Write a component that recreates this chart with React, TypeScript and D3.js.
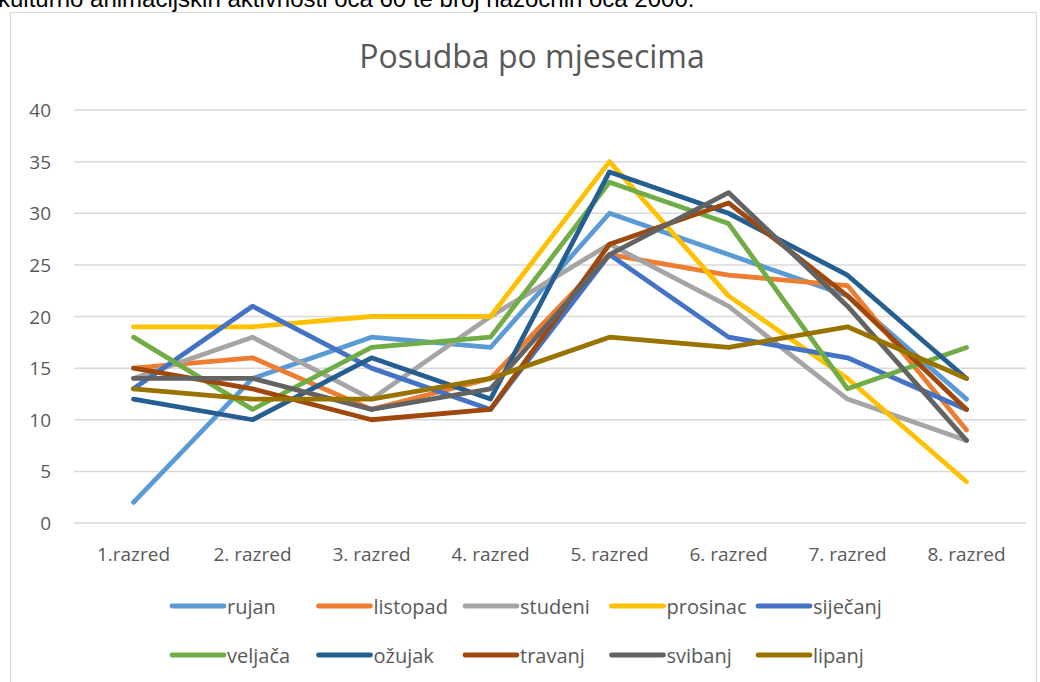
import React from "react";
import * as d3 from "d3";

const categories = ["1.razred", "2. razred", "3. razred", "4. razred", "5. razred", "6. razred", "7. razred", "8. razred"];
const seriesNames = ["rujan", "listopad", "studeni", "prosinac", "siječanj", "veljača", "ožujak", "travanj", "svibanj", "lipanj"];
const seriesColors = ["#5B9BD5", "#ED7D31", "#A5A5A5", "#FFC000", "#4472C4", "#70AD47", "#255E91", "#9E480E", "#636363", "#997300"];
const rujan = [2, 14, 18, 17, 30, 26, 22, 12];
const listopad = [15, 16, 11, 14, 26, 24, 23, 9];
const studeni = [14, 18, 12, 20, 27, 21, 12, 8];
const prosinac = [19, 19, 20, 20, 35, 22, 14, 4];
const sijecanj = [13, 21, 15, 11, 26, 18, 16, 11];
const veljaca = [18, 11, 17, 18, 33, 29, 13, 17];
const ozujak = [12, 10, 16, 12, 34, 30, 24, 14];
const travanj = [15, 13, 10, 11, 27, 31, 22, 11];
const svibanj = [14, 14, 11, 13, 26, 32, 21, 8];
const lipanj = [13, 12, 12, 14, 18, 17, 19, 14];
const seriesValues = [rujan, listopad, studeni, prosinac, sijecanj, veljaca, ozujak, travanj, svibanj, lipanj];
const yTicks = [0, 5, 10, 15, 20, 25, 30, 35, 40];
const title = "Posudba po mjesecima";
const topText = "kulturno animacijskih aktivnosti oca 60 te broj nazočnih oca 2000.";

const W = 1040;
const H = 682;
const FONT = "'Open Sans', sans-serif";
const TXT = "#595959";

export default function App() {
  const x = d3.scaleBand<string>().domain(categories).range([74, 1026]);
  const y = d3.scaleLinear().domain([0, 40]).range([523, 110]);
  const cx = (c: string) => (x(c) as number) + x.bandwidth() / 2;
  const line = d3
    .line<number>()
    .x((_, i) => cx(categories[i]))
    .y((d) => y(d));

  const legX0 = 172;
  const legStep = 146.5;
  const legY = [606, 655];

  return (
    <svg width={W} height={H} style={{ position: "absolute", left: 0, top: 0, background: "#fff" }}>
      <rect x={0} y={0} width={W} height={H} fill="#fff" />
      <text x={-2} y={7} fontFamily="'Liberation Sans', Arial, sans-serif" fontSize={24} fill="#000">
        {topText}
      </text>
      <rect x={10.5} y={12.5} width={1026} height={700} fill="#fff" stroke="#D9D9D9" strokeWidth={1} />
      <text x={532} y={55} textAnchor="middle" dominantBaseline="central" fontFamily={FONT} fontSize={32} fill={TXT}>
        {title}
      </text>
      {yTicks.map((t) => (
        <g key={t}>
          <line x1={74} x2={1026} y1={y(t)} y2={y(t)} stroke="#D9D9D9" strokeWidth={1.5} />
          <text x={51} y={y(t)} textAnchor="end" dominantBaseline="central" fontFamily={FONT} fontSize={19} fill={TXT}>
            {t}
          </text>
        </g>
      ))}
      {categories.map((c) => (
        <text key={c} x={cx(c)} y={554} textAnchor="middle" dominantBaseline="central" fontFamily={FONT} fontSize={19} fill={TXT}>
          {c}
        </text>
      ))}
      {seriesValues.map((vals, i) => (
        <path
          key={seriesNames[i]}
          d={line(vals) || ""}
          fill="none"
          stroke={seriesColors[i]}
          strokeWidth={4.8}
          strokeLinecap="round"
          strokeLinejoin="round"
        />
      ))}
      {seriesNames.map((n, i) => {
        const row = Math.floor(i / 5);
        const col = i % 5;
        const lx = legX0 + col * legStep;
        const ly = legY[row];
        return (
          <g key={n}>
            <line x1={lx} x2={lx + 52} y1={ly} y2={ly} stroke={seriesColors[i]} strokeWidth={4.8} strokeLinecap="round" />
            <text x={lx + 55} y={ly} dominantBaseline="central" fontFamily={FONT} fontSize={20} fill={TXT}>
              {n}
            </text>
          </g>
        );
      })}
    </svg>
  );
}
